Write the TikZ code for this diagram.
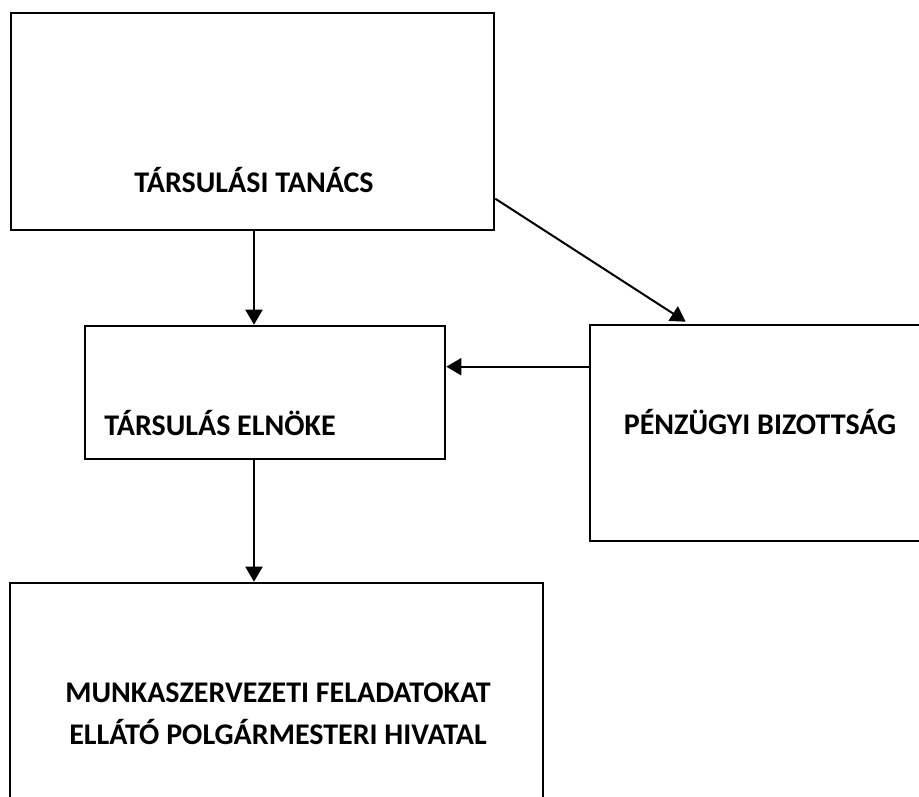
\documentclass[tikz,border=0pt]{standalone}
\usepackage{fontspec}
\setmainfont{Carlito}
\usetikzlibrary{arrows.meta,calc}
\begin{document}
\begin{tikzpicture}[x=1pt,y=-1pt,
  box/.style={draw=black,line width=2.6pt,rectangle,inner sep=0pt},
  lbl/.style={font=\fontsize{30}{42}\selectfont\bfseries,align=center,inner sep=0pt},
  arr/.style={line width=2pt,-{Triangle[length=15pt,width=17pt]}}]
\useasboundingbox (0,0) rectangle (919,797);
\fill[white] (0,0) rectangle (919,797);
\clip (0,0) rectangle (919,797);
\node[box,minimum width=483pt,minimum height=217pt] (b1) at (252.5,121.5) {};
\node[box,minimum width=360pt,minimum height=133pt] (b2) at (265,392.5) {};
\node[box,minimum width=360pt,minimum height=216pt] (b3) at (770,433) {};
\node[box,minimum width=533pt,minimum height=260pt] (b4) at (276.5,713) {};
\node[lbl] (t1) at (254,180) {TÁRSULÁSI TANÁCS};
\node[lbl] (t2) at (220,423) {TÁRSULÁS ELNÖKE};
\node[lbl] (t3) at (760,422) {PÉNZÜGYI BIZOTTSÁG};
\node[lbl] (t4) at (278,714) {MUNKASZERVEZETI FELADATOKAT\\ELLÁTÓ POLGÁRMESTERI HIVATAL};
\coordinate (c1) at ($(b1.north east)+(0,187)$);
\coordinate (c2) at ($(b3.north west)+(97,-2)$);
\coordinate (c3) at ($(b3.north west)+(0,43)$);
\draw[arr] (b1.south -| t1) -- (b2.north -| t1);
\draw[arr] (b2.south -| t1) -- (b4.north -| t1);
\draw[arr] (c3) -- (c3 -| b2.east);
\draw[arr] (c1) -- (c2);
\end{tikzpicture}
\end{document}
